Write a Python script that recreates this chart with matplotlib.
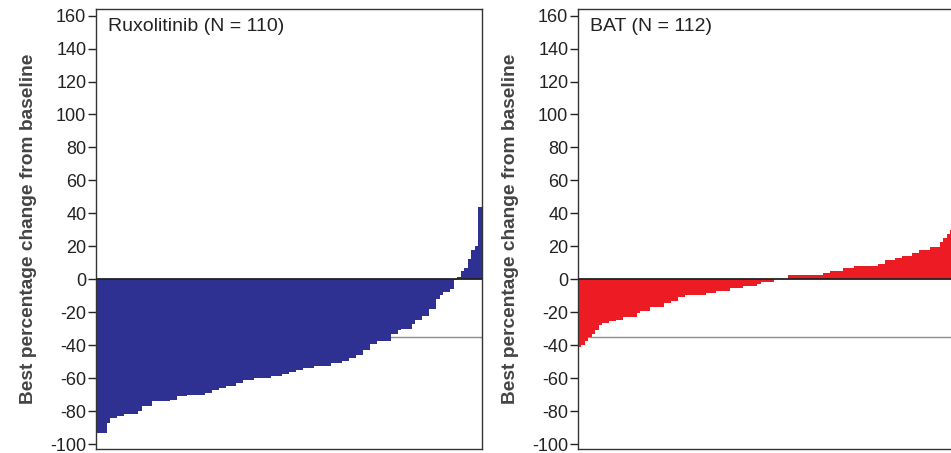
import numpy as np
import matplotlib
matplotlib.use("Agg")
import matplotlib.pyplot as plt

plt.rcParams['font.family'] = ['Liberation Sans', 'DejaVu Sans']
plt.rcParams['axes.unicode_minus'] = False

# best % change in spleen volume, sorted
rux_label = "Ruxolitinib (N = 110)"
rux_values = [
    -93, -93, -93, -87, -84, -84, -83, -83, -82, -82,
    -82, -82, -80, -77, -77, -77, -74, -74, -74, -74,
    -74, -73, -73, -71, -71, -71, -70, -70, -70, -70,
    -70, -69, -69, -67, -67, -66, -66, -65, -65, -65,
    -63, -63, -61, -61, -61, -60, -60, -60, -60, -60,
    -59, -59, -59, -57.5, -57.5, -56.5, -56.5, -55, -55, -54,
    -54, -54, -52.5, -52.5, -52.5, -52.5, -52.5, -51, -51, -51,
    -49.5, -49.5, -48, -48, -46, -46, -43, -43, -39, -39,
    -37.5, -37.5, -37.5, -37.5, -33, -33, -31, -30, -30, -30,
    -27, -24.5, -24.5, -22.5, -22.5, -18, -18, -12, -9.5, -8,
    -8, -6, -0.5, 1.5, 5, 7, 12, 18, 20, 44,
]

bat_label = "BAT (N = 112)"
bat_values = [
    -41, -40, -37.5, -35, -33, -31, -28, -26.3, -26.3, -25.3,
    -25.3, -24.5, -24.5, -23, -23, -23, -23, -20.5, -19.2, -19.2,
    -19.2, -17, -17, -17, -17, -14.7, -14.7, -13.1, -13.1, -11,
    -11, -9.5, -9.5, -9.5, -9.5, -9.5, -9.5, -8.3, -8.3, -8.3,
    -7, -7, -7, -7, -5.6, -5.6, -5.6, -5.6, -4.2, -4.2,
    -4.2, -4.2, -2.9, -1.5, -1.5, -1.5, -1.5, 0, 0, 0,
    0, 2.8, 2.8, 2.8, 2.8, 2.8, 2.8, 2.8, 2.8, 2.8,
    2.8, 4, 4, 5.2, 5.2, 5.2, 5.2, 6.6, 6.6, 6.6,
    8, 8, 8, 8, 8, 8, 8, 9.5, 9.5, 11.7,
    11.7, 11.7, 12.7, 12.7, 14.2, 14.2, 14.2, 16, 16, 17.5,
    17.5, 17.5, 19.8, 19.8, 19.8, 22.5, 25, 27.5, 30, 34,
    40, 52,
]

yticks = list(range(-100, 161, 20))
threshold = -35

W, H = 951, 453
fig = plt.figure(figsize=(W / 100, H / 100), dpi=100)

panels = [
    (rux_label, rux_values, "#2E3192", 96),
    (bat_label, bat_values, "#ED1C24", 578),
]

for label, vals, color, left_px in panels:
    ax = fig.add_axes([left_px / W, 4 / H, 386 / W, 440 / H])
    n = len(vals)
    x = np.arange(1, n + 1)
    ax.axhline(threshold, color="#8c8c8c", lw=1.0, zorder=1)
    ax.bar(x, vals, width=1.0, color=color, linewidth=0, zorder=2)
    ax.axhline(0, color="#222222", lw=1.3, zorder=3)
    ax.set_xlim(0.5, n + 0.5)
    ax.set_ylim(-103, 164)
    ax.set_xticks([])
    ax.set_yticks(yticks)
    ax.tick_params(axis="y", direction="out", length=6, width=1,
                   labelsize=13, colors="#222222", pad=1)
    for s in ax.spines.values():
        s.set_linewidth(1.0)
        s.set_color("#333333")
    ax.text(0.03, 0.98, label, transform=ax.transAxes, ha="left", va="top",
            fontsize=14, color="#222222")
    ax.set_ylabel("Best percentage change from baseline", fontsize=13.8,
                  fontweight="bold", color="#444444")
    ax.yaxis.set_label_coords(-0.153, 0.5)

fig.savefig("out.png", dpi=100)
